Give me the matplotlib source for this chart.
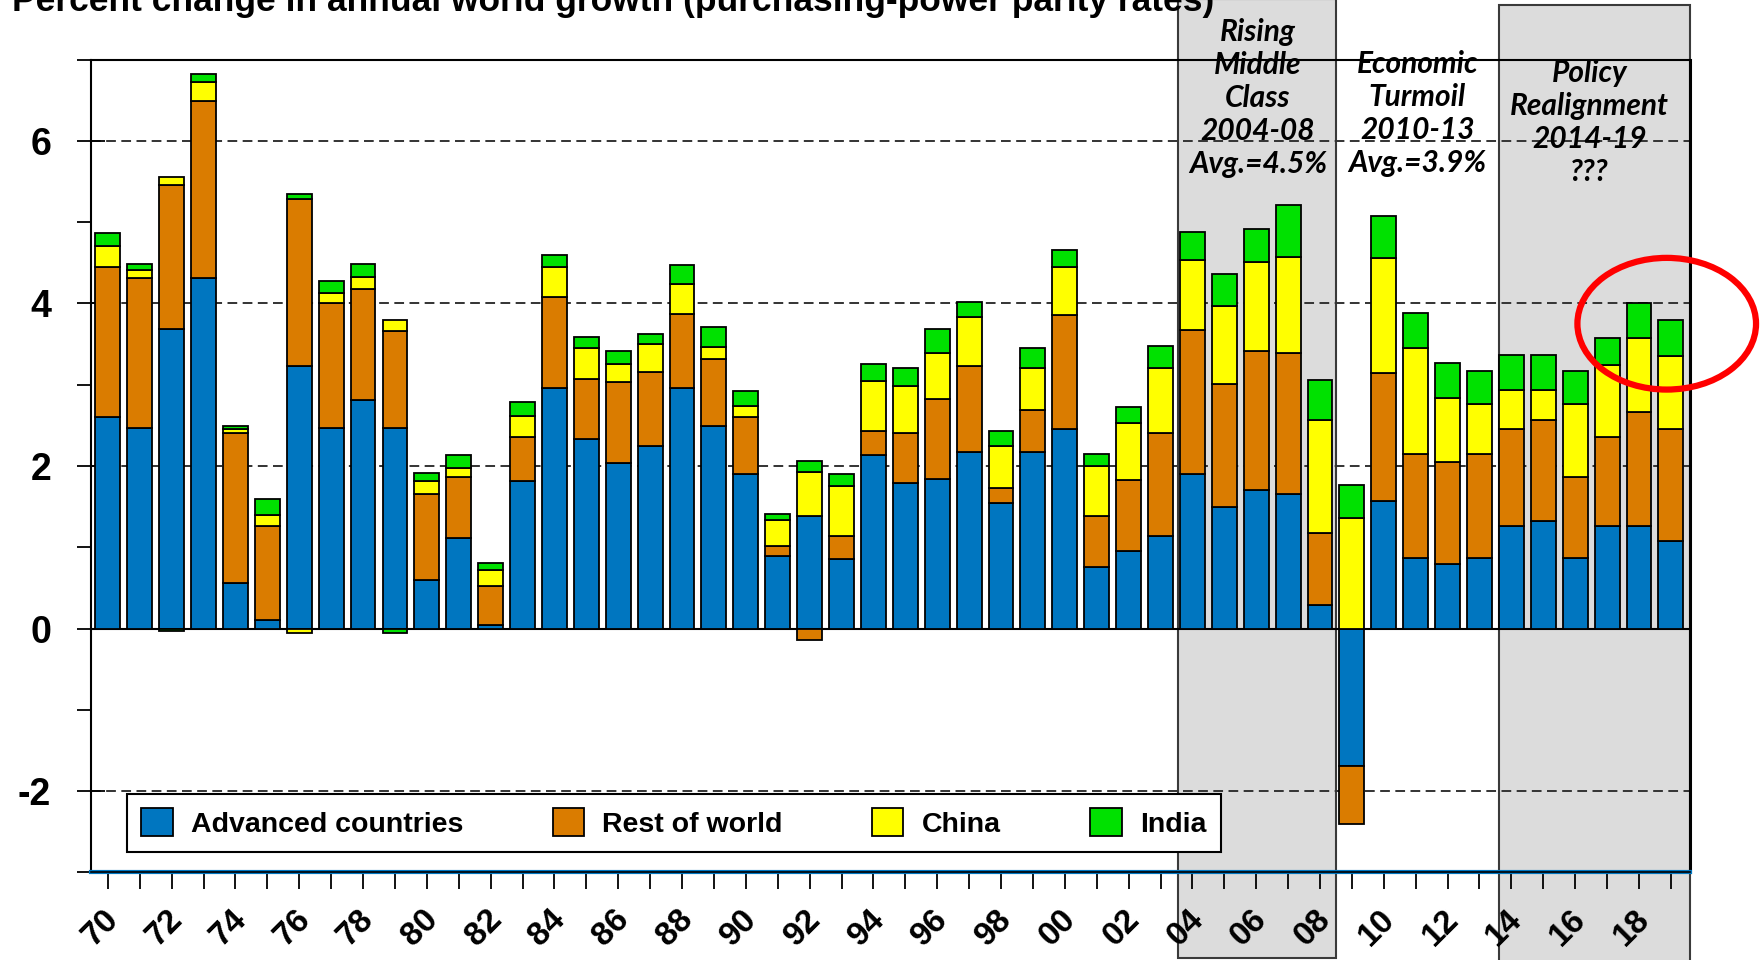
"""
plot.py
=============================
Stacked bar chart of annual world growth contributions (PPP rates), 1970-2019.
"""

import numpy as np
import matplotlib
matplotlib.use('Agg')
import matplotlib.pyplot as plt
import matplotlib.transforms as mtransforms
from matplotlib.patches import Rectangle, Ellipse

plt.rcParams['font.family'] = ['Liberation Sans', 'DejaVu Sans']

# Data
years = np.arange(1970, 2020)

advanced = [2.60, 2.47, 3.68, 4.31, 0.56, 0.11, 3.23, 2.47, 2.81, 2.47,
            0.60, 1.12, 0.05, 1.81, 2.96, 2.33, 2.04, 2.24, 2.96, 2.49,
            1.90, 0.89, 1.39, 0.85, 2.13, 1.79, 1.84, 2.17, 1.55, 2.17,
            2.45, 0.76, 0.96, 1.14, 1.90, 1.50, 1.70, 1.66, 0.29, -1.69,
            1.57, 0.87, 0.79, 0.87, 1.26, 1.32, 0.87, 1.26, 1.26, 1.08]

rest_of_world = [1.85, 1.84, 1.78, 2.18, 1.84, 1.15, 2.06, 1.53, 1.37, 1.19,
                 1.06, 0.74, 0.47, 0.55, 1.12, 0.74, 0.99, 0.92, 0.91, 0.83,
                 0.70, 0.12, -0.14, 0.29, 0.30, 0.61, 0.99, 1.06, 0.18, 0.52,
                 1.41, 0.63, 0.87, 1.26, 1.77, 1.51, 1.71, 1.73, 0.88, -0.72,
                 1.57, 1.28, 1.26, 1.28, 1.19, 1.24, 0.99, 1.10, 1.40, 1.37]

china = [0.25, 0.10, 0.09, 0.23, 0.06, 0.14, -0.06, 0.13, 0.14, 0.14,
         0.15, 0.12, 0.20, 0.25, 0.37, 0.38, 0.22, 0.34, 0.37, 0.14,
         0.14, 0.33, 0.53, 0.61, 0.62, 0.58, 0.56, 0.60, 0.51, 0.51,
         0.59, 0.61, 0.70, 0.81, 0.86, 0.96, 1.10, 1.18, 1.39, 1.36,
         1.42, 1.30, 0.79, 0.61, 0.49, 0.38, 0.90, 0.88, 0.91, 0.90]

india = [0.16, 0.07, -0.03, 0.10, 0.03, 0.20, 0.06, 0.14, 0.16, -0.06,
         0.10, 0.16, 0.09, 0.18, 0.14, 0.14, 0.16, 0.12, 0.23, 0.25,
         0.18, 0.07, 0.14, 0.15, 0.20, 0.23, 0.29, 0.19, 0.19, 0.25,
         0.21, 0.15, 0.20, 0.27, 0.35, 0.39, 0.41, 0.64, 0.50, 0.40,
         0.52, 0.43, 0.43, 0.41, 0.43, 0.43, 0.41, 0.34, 0.44, 0.44]

series_names = ['Advanced countries', 'Rest of world', 'China', 'India']
series_colors = ['#0076C0', '#DA7C00', '#FFFF00', '#00E100']

periods = [
	{'start': 2003.55, 'end': 2008.5, 'top': 7.75, 'bottom': -4.05},
	{'start': 2013.6, 'end': 2019.6, 'top': 7.67, 'bottom': -4.3},
]

notes = [
	{'x': 2006.05, 'y': 7.23, 'lines': ['Rising', 'Middle', 'Class', '2004-08', 'Avg.=4.5%']},
	{'x': 2011.05, 'y': 6.83, 'lines': ['Economic', 'Turmoil', '2010-13', 'Avg.=3.9%']},
	{'x': 2016.45, 'y': 6.72, 'lines': ['Policy', 'Realignment', '2014-19', '???']},
]

title = 'Percent change in annual world growth (purchasing-power parity rates)'

# Create figure
fig = plt.figure(figsize=(17.63, 9.6), dpi=100)
ax = fig.add_axes([0.0516, 0.0912, 0.9070, 0.8468])

# Shaded periods
for p in periods:
	ax.add_patch(Rectangle((p['start'], p['bottom']), p['end'] - p['start'], p['top'] - p['bottom'],
		facecolor='#DCDCDC', edgecolor='#3a3a3a', linewidth=1.5, clip_on=False, zorder=0.5))

# Grid lines
for g in [-2, 2, 4, 6]:
	ax.axhline(g, color='#333333', linewidth=1.4, linestyle=(0, (5, 2.8)), zorder=1)
ax.axhline(0, color='black', linewidth=1.5, zorder=1)

# Stacked bars (positive parts stack up, negative parts stack down)
pos_base = np.zeros(len(years))
neg_base = np.zeros(len(years))
for vals, color, name in zip([advanced, rest_of_world, china, india], series_colors, series_names):
	vals = np.array(vals)
	base = np.where(vals >= 0, pos_base, neg_base)
	ax.bar(years, vals, width=0.78, bottom=base, color=color, edgecolor='black',
		linewidth=1.3, label=name, zorder=2)
	pos_base += np.clip(vals, 0, None)
	neg_base += np.clip(vals, None, 0)

# Period notes
for n in notes:
	for i, line in enumerate(n['lines']):
		ax.text(n['x'], n['y'] - i * 0.405, line, ha='center', va='baseline',
			family=['Lato', 'DejaVu Sans'], fontstyle='italic', fontweight='bold',
			fontsize=21.5, zorder=3, clip_on=False)

# Red circle
ax.add_patch(Ellipse((2018.87, 3.75), 5.6, 1.62, fill=False, edgecolor='#FF0000',
	linewidth=4.5, clip_on=False, zorder=4))

# Axes configuration
ax.set_xlim(1969.47, 2019.6)
ax.set_ylim(-3, 7)

ax.set_yticks([-2, 0, 2, 4, 6])
ax.set_yticklabels(['-2', '0', '2', '4', '6'], fontsize=27, fontweight='bold')
ax.set_yticks([-3, -1, 1, 3, 5, 7], minor=True)
ax.tick_params(axis='y', which='major', direction='inout', length=19.5, width=1.3, pad=19)
ax.tick_params(axis='y', which='minor', direction='out', length=9.75, width=1.3)

even_years = years[::2]
ax.set_xticks(even_years)
ax.set_xticklabels(['{:02d}'.format(y % 100) for y in even_years], rotation=45,
	ha='center', va='top', fontsize=24, fontweight='bold')
ax.set_xticks(years[1::2], minor=True)
ax.tick_params(axis='x', which='both', direction='out', length=12.5, width=1.3, pad=10)
shift = mtransforms.ScaledTranslation(-5 / 72, 0, fig.dpi_scale_trans)
for lab in ax.get_xticklabels():
	lab.set_transform(lab.get_transform() + shift)

for side in ['left', 'top']:
	ax.spines[side].set_linewidth(1.5)
	ax.spines[side].set_color('black')
ax.spines['right'].set_linewidth(2.2)
ax.spines['bottom'].set_color('#0076C0')
ax.spines['bottom'].set_linewidth(3)
ax.axhline(-3, color='black', linewidth=1.2, zorder=5, clip_on=False)

# Legend
leg = ax.legend(loc='lower left', bbox_to_anchor=(0.0225, 0.0252, 0.684, 0.08), mode='expand',
	ncol=4, prop={'weight': 'bold', 'size': 20.5}, frameon=True, fancybox=False,
	edgecolor='black', framealpha=1, borderpad=0.5, handlelength=1.1,
	handleheight=1.15, handletextpad=0.65, columnspacing=2.5, borderaxespad=0)
leg.get_frame().set_linewidth(1.5)
leg.set_zorder(6)

# Title (partly cut at the top, as in the source)
fig.text(0.0068, 1 - 11 / 960, title, fontsize=25.5, fontweight='bold', ha='left', va='baseline')

# Save figure
plt.savefig('out.png', dpi=100)
plt.close()
